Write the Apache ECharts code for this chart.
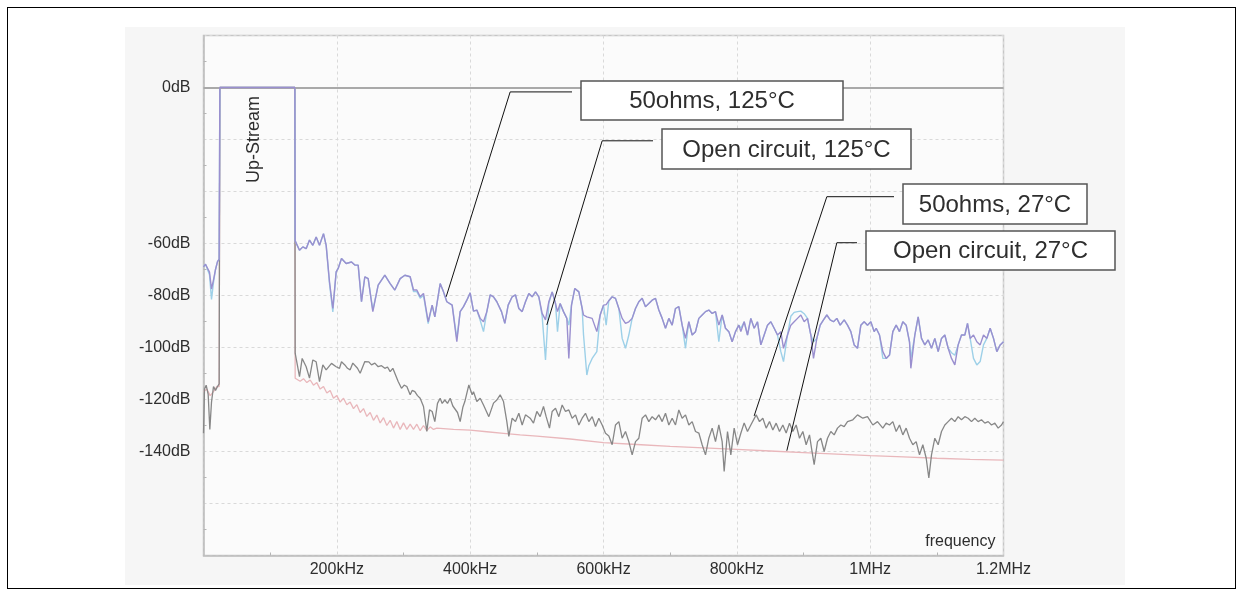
<!DOCTYPE html>
<html>
<head>
<meta charset="utf-8">
<script src="https://cdn.jsdelivr.net/npm/echarts@6/dist/echarts.min.js"></script>
<style>
  html, body { margin: 0; padding: 0; background: #ffffff; }
  #frame { position: absolute; left: 7px; top: 7px; width: 1229px; height: 582px; border: 1.5px solid #000; box-sizing: border-box; }
  #panel { position: absolute; left: 125px; top: 27px; width: 1000px; height: 558px; background: #f6f6f6; }
  #chart { position: absolute; left: 0; top: 0; width: 1243px; height: 596px; }
</style>
</head>
<body>
<div id="frame"></div>
<div id="panel"></div>
<div id="chart"></div>
<script>
// Frequency in kHz, level in dB.
const xTickLabels = ['', '200kHz', '400kHz', '600kHz', '800kHz', '1MHz', '1.2MHz'];
const yLabelledLevels = [0, -60, -80, -100, -120, -140];

// 50 ohms load, 125 °C
const ohms50_125C = [
  [0,-69],[3,-68],[6,-67.5],[9,-71],[12,-77.5],[15,-74],[18,-70],[21,-67],[23.5,-66],[24.5,0],
  [137,0],[137.5,-59],
  [139,-58.7],[144,-62.6],[149,-61.3],[154,-62],[159,-58.7],[164,-60.7],[169,-57.5],[174,-60.7],[180,-56.2],[184,-60.7],[189,-74.7],[194,-85],
  [199,-70.9],[202,-69.6],[207,-65.8],[214,-67.7],[222,-67.1],[227,-68.3],[232,-68.3],[237,-82.4],[242,-72.8],[247,-73.5],[254,-86.2],[262,-76],[272,-72.2],[280,-75.4],[287,-77.9],[295,-73.5],[302,-72.2],[310,-72.8],[315,-77.9],[320,-77.9],[325,-80.5],[330,-79.2],[337,-90.1],[343,-83.7],[347,-88.2],[355,-75.4],[360,-78.6],[365,-82.4],[373,-83.7],[380,-97.8],[385,-86.2],[390,-84.3],[395,-81.8],[400,-79],[405,-86],
  [410,-85.6],[415,-88.8],[420,-90.1],[425,-86.2],[430,-79.8],[435,-80.5],[440,-82.4],[447,-86.2],[452,-90.7],[457,-83.7],[463,-80.5],[468,-79.8],[473,-85],[478,-86.2],[483,-82.4],[488,-79.2],[493,-80.5],[498,-78.6],[503,-80.5],[508,-86.9],[513,-89.4],[518,-82.4],[523,-78.6],[528,-83.1],[531,-86.2],[535,-83.1],[540,-86.2],[545,-88.8],[548,-104.2],[552,-83.7],[557,-77.3],[563,-78.6],[568,-85],[570,-87.5],[575,-88.2],[578,-88.8],[583,-88.8],[590,-93.9],[595,-87.5],[600,-83.7],
  [604,-83.5],[608,-82],[613,-80.5],[618,-81.1],[623,-85],[628,-88.8],[633,-90.7],[638,-90.1],[643,-88.8],[648,-85],[653,-82.4],[658,-81.1],[663,-84.3],[668,-83.1],[673,-81.8],[678,-81.1],[683,-85.6],[688,-88.8],[693,-92.6],[698,-88.8],[703,-91.4],[708,-85],[713,-84.3],[718,-91.4],[723,-96.5],[728,-90.1],[733,-95.2],[738,-93.9],[743,-88.8],[748,-87.5],[753,-86.2],[758,-85.6],[763,-86.9],[768,-86.2],[773,-91.4],[778,-87.5],[783,-92.6],[788,-93.9],[793,-97.8],[798,-93.9],[803,-91.4],
  [806,-93.9],[811,-90.1],[816,-95.2],[821,-88.8],[826,-92.6],[831,-90.1],[836,-99],[841,-95.2],[846,-91.4],[851,-90.1],[856,-92.6],[861,-95.2],[866,-93.9],[870,-100.3],[876,-95.2],[881,-91.4],[886,-90.1],[891,-88.8],[896,-87.5],[901,-90.1],[906,-88.8],[911,-95.2],[915,-104.2],[920,-96.5],[925,-91.4],[930,-89.4],[935,-87.5],[940,-89.4],[945,-90.1],[950,-88.8],[955,-91.4],[961,-89.4],[966,-91.4],[971,-93.9],[976,-99],[981,-100.3],[986,-91.4],[991,-90.1],[996,-91.4],[1001,-90.1],[1006,-93.9],
  [1009,-92.6],[1014,-95.2],[1019,-101.6],[1024,-104.2],[1029,-102.9],[1034,-93.9],[1039,-91.4],[1044,-93.9],[1049,-90.1],[1054,-91.4],[1059,-97.8],[1061,-108],[1067,-95.2],[1072,-88.2],[1077,-96.5],[1082,-99],[1087,-97.1],[1092,-100.3],[1097,-96.5],[1102,-101.6],[1107,-96.5],[1112,-95.2],[1117,-100.3],[1122,-104.2],[1127,-106.7],[1132,-99],[1137,-95.2],[1142,-95.2],[1146,-90.7],[1150,-96.5],[1155,-95.2],[1160,-97.8],[1165,-99],[1170,-95.2],[1175,-96.5],[1180,-92.6],[1185,-96.5],[1190,-101.6],[1195,-99],[1200,-97.8]
];

// Open circuit, 125 °C
const open_125C = [
  [0,-69],[3,-68],[6,-67.5],[9,-72],[12,-81.5],[15,-75],[18,-70],[21,-67],[23.5,-66],[24.5,0],
  [137,0],[137.5,-59],
  [139,-58.7],[144,-62.6],[149,-61.3],[154,-62],[159,-58.7],[164,-60.7],[169,-57.5],[174,-60.7],[180,-56.2],[184,-60.7],[189,-75.5],[194,-86.3],
  [199,-70.9],[202,-69.6],[207,-65.8],[214,-67.7],[222,-67.1],[227,-68.3],[232,-68.3],[237,-82.4],[242,-72.8],[247,-73.5],[254,-85.6],[262,-76],[272,-72.2],[280,-75.4],[287,-77.9],[295,-73.5],[302,-72.2],[310,-72.8],[315,-78.5],[320,-78.5],[325,-81],[330,-80],[337,-90.8],[343,-83.7],[347,-88.2],[355,-75.4],[360,-78.6],[365,-82.4],[373,-83.7],[380,-96.5],[385,-86.2],[390,-84.3],[395,-81.8],[400,-79],[405,-86],
  [410,-85.6],[415,-89.5],[420,-93.9],[425,-86.2],[430,-79.8],[435,-80.5],[440,-82.4],[447,-86.2],[452,-90.7],[457,-83.7],[463,-80.5],[468,-79.8],[473,-85],[478,-86.2],[483,-82.4],[488,-79.2],[493,-80.5],[498,-78.6],[503,-80.5],[508,-88],[513,-104.8],[518,-83],[523,-78.6],[528,-83.1],[531,-93.9],[535,-83.1],[540,-86.2],[545,-88.8],[548,-91.4],[552,-83.7],[557,-77.3],[563,-78.6],[568,-85],[570,-95],[575,-110.6],[578,-107],[583,-104.2],[590,-101.6],[595,-87.5],[600,-83.7],
  [604,-91.4],[608,-82],[613,-80.5],[618,-81.1],[623,-85],[628,-96.5],[633,-100.3],[638,-95.2],[643,-88.8],[648,-85],[653,-82.4],[658,-81.1],[663,-84.3],[668,-83.1],[673,-81.8],[678,-81.1],[683,-85.6],[688,-88.8],[693,-92.6],[698,-88.8],[703,-91.4],[708,-85],[713,-84.3],[718,-91.4],[723,-100.3],[728,-90.1],[733,-95.2],[738,-93.9],[743,-88.8],[748,-87.5],[753,-86.2],[758,-85.6],[763,-86.9],[768,-86.2],[773,-97.8],[778,-87.5],[783,-92.6],[788,-93.9],[793,-97.8],[798,-93.9],[803,-91.4],
  [806,-92.6],[811,-90.1],[816,-95.2],[821,-88.8],[826,-92.6],[831,-90.1],[836,-99],[841,-95.2],[846,-91.4],[851,-90.1],[856,-92.6],[861,-95.2],[866,-101.6],[870,-105.4],[876,-95.2],[881,-88],[886,-86.5],[891,-86.2],[896,-86],[901,-87],[906,-88.8],[911,-95.2],[915,-97.8],[920,-96.5],[925,-91.4],[930,-89.4],[935,-87.5],[940,-89.4],[945,-90.1],[950,-88.8],[955,-91.4],[961,-89.4],[966,-91.4],[971,-93.9],[976,-99],[981,-100.3],[986,-91.4],[991,-90.1],[996,-91.4],[1001,-90.1],[1006,-93.9],
  [1009,-92.6],[1014,-95.2],[1019,-104.2],[1024,-104.2],[1029,-102.9],[1034,-93.9],[1039,-91.4],[1044,-93.9],[1049,-90.1],[1054,-91.4],[1059,-97.8],[1061,-104.2],[1067,-95.2],[1072,-88.2],[1077,-96.5],[1082,-99],[1087,-97.1],[1092,-100.3],[1097,-96.5],[1102,-101.6],[1107,-96.5],[1112,-95.2],[1117,-100.3],[1122,-102],[1127,-103],[1132,-99],[1137,-95.2],[1142,-95.2],[1146,-90.7],[1150,-96.5],[1155,-104.2],[1160,-106.7],[1165,-105.4],[1170,-99],[1175,-96.5],[1180,-92.6],[1185,-96.5],[1190,-101.6],[1195,-99],[1200,-97.8]
];

// 50 ohms load, 27 °C
const ohms50_27C = [
  [0,-133],[1.5,-116],[4,-114.5],[7,-118],[9.5,-131.5],[12,-121],[15,-115],[18,-116.5],[21,-115],[23.5,-114],[24.5,0],
  [137,0],[137.5,-102.2],
  [144,-111.2],[148,-104.2],[154,-107.4],[159,-111.8],[164,-104.8],[169,-105.5],[174,-113.1],[179,-106.7],[184,-108.6],[192,-106.1],[199,-107.4],[204,-108],[207,-105.5],[212,-106.7],[216,-108],[220,-108.6],[224,-106],[227,-106.7],[231,-108],[235,-109.9],[242,-105.4],[248,-105.5],[252,-106.7],[257,-106],[262,-107.4],[267,-107],[272,-108],[276,-107.5],[280,-109.3],[284,-108],[287,-108.6],[292,-113.1],[297,-115.7],[301,-114.5],[305,-115],[310,-118.2],[313,-116.5],[317,-117],[321,-118.5],[325,-119.5],[330,-122.7],[335,-132.3],[339,-124],[343,-124.6],[347,-128.5],[351,-121.5],[355,-119.5],[358,-121.5],[362,-120.2],[366,-121.5],[370,-119.5],[374,-122.5],[377,-122.1],[381,-125],[385,-128.5],[389,-123],[392,-120.8],[398,-114.4],[403,-118.2],
  [405,-117],[410,-120.8],[415,-119.5],[420,-122.1],[428,-126.6],[435,-121.4],[440,-120.2],[445,-118.2],[450,-120.8],[455,-128.5],[458,-134.2],[463,-127.2],[468,-128.5],[473,-125.3],[478,-129.8],[483,-125.9],[490,-127.2],[495,-129.1],[500,-124.6],[505,-126.6],[510,-122.7],[514,-126.6],[519,-131],[523,-124.6],[528,-123.4],[533,-126.6],[538,-122.1],[543,-124.6],[548,-124],[553,-127.2],[558,-125.9],[563,-129.8],[568,-127.2],[573,-125.3],[578,-128.5],[583,-126.6],[588,-130.4],[593,-127.2],[598,-129.8],[603,-133],[608,-134],
  [613,-137.4],[618,-129.8],[623,-128.5],[628,-134.9],[633,-132.3],[638,-136.2],[643,-141.3],[648,-136.2],[653,-134.9],[658,-127.2],[663,-125.9],[668,-128.5],[673,-126.6],[678,-127.8],[683,-125.9],[688,-128.5],[693,-125.3],[698,-129.8],[703,-127.2],[708,-129.8],[713,-124],[718,-127.2],[723,-125.9],[728,-129.8],[733,-128.5],[738,-132.3],[743,-132.9],[748,-137.4],[753,-141.3],[758,-134.9],[763,-131],[768,-136.2],[773,-129.8],[778,-136.2],[781,-147.7],[786,-132.3],[791,-141.3],[796,-131],[801,-137.4],[806,-133],[811,-129],
  [816,-132.3],[821,-129.8],[829,-125.9],[834,-128.5],[839,-127.2],[844,-131],[849,-128.5],[854,-131.7],[859,-129.1],[864,-132.3],[869,-129.8],[874,-132.9],[879,-129.1],[884,-132.3],[889,-129.8],[894,-134.9],[899,-132.3],[904,-137.4],[909,-133.6],[912,-138.7],[916,-145.1],[921,-136.2],[926,-134.9],[931,-140],[936,-134.9],[941,-132.3],[946,-133.6],[951,-131],[956,-129.8],[961,-130.4],[966,-128.5],[974,-127.8],[981,-125.9],[989,-127.2],[996,-126.6],[1004,-129.8],[1011,-128.5],
  [1014,-128.5],[1019,-131],[1024,-129.1],[1029,-129.8],[1034,-128.5],[1039,-132.3],[1044,-129.8],[1049,-133.6],[1054,-131],[1059,-134.9],[1064,-137.4],[1069,-136.2],[1074,-141.3],[1079,-137.4],[1084,-142.5],[1088,-150.2],[1092,-141.3],[1097,-134.9],[1102,-137.4],[1107,-132.3],[1112,-129.8],[1117,-128.5],[1122,-127.2],[1127,-128.5],[1132,-126.6],[1137,-127.8],[1142,-126.6],[1147,-127.2],[1152,-128.5],[1157,-127.2],[1162,-128.5],[1167,-127.8],[1172,-129.1],[1177,-128.5],[1182,-129.8],[1187,-129.1],[1192,-131],[1197,-129.8],[1200,-128.5]
];

// Open circuit, 27 °C
const open_27C = [
  [0,-117],[5,-116],[10,-118.5],[15,-117],[20,-115],[23.5,-115],[24.5,0],
  [137,0],[137.5,-111.8],
  [140,-111.5],[145,-113],[150,-112],[155,-113.5],[160,-112.5],[165,-114.5],[170,-113.5],[175,-116],[180,-115],[185,-117.5],[190,-116.5],[195,-119.5],[200,-118.5],[205,-121],[210,-119.5],[215,-122],[220,-121],[225,-123.5],[230,-122],[235,-125],[240,-123.5],[245,-126.5],[250,-125],[255,-128],[260,-126],[265,-129],[270,-127],[275,-130],[280,-128],[285,-131],[290,-128.5],[295,-131.5],[300,-129],[305,-131.5],[310,-129.5],[315,-131.5],[320,-129.5],[325,-132],[330,-130],[335,-132],[340,-130.5],[345,-131.5],[350,-131],
  [360,-131.2],[375,-131.5],[400,-131.8],[425,-132.4],[450,-133],[475,-133.6],[500,-134.1],[550,-135.2],[600,-136.6],[650,-137.3],[700,-138],[750,-138.6],[800,-139.2],[850,-139.8],[900,-140.4],[950,-141],[1000,-141.6],[1050,-142.1],[1100,-142.6],[1150,-143],[1200,-143.3]
];

// Callout notes: tip and elbow in (kHz, dB); box in page pixels.
const notes = [
  { text: '50ohms, 125°C',        tip: [364, -80.5],  elbow: [460, -1.7],  box: [581, 81, 262, 39] },
  { text: 'Open circuit, 125°C',  tip: [515, -91.3],  elbow: [598, -20.5], box: [662, 129, 249, 40] },
  { text: '50ohms, 27°C',         tip: [826, -126.3], elbow: [935, -42.0], box: [903, 184, 184, 40] },
  { text: 'Open circuit, 27°C',   tip: [875, -139.7], elbow: [950, -59.7], box: [866, 231, 249, 39] }
];

const FONT = '"Liberation Sans", Arial, Helvetica, sans-serif';
const TEXT_COLOR = '#2e2e2e';

const chart = echarts.init(document.getElementById('chart'));

function lineSeries(name, data, color, width, z) {
  return {
    name: name, type: 'line', data: data,
    showSymbol: false, symbol: 'none', silent: true, z: z,
    lineStyle: { color: color, width: width }
  };
}

const series = [
  lineSeries('Open circuit, 27°C', open_27C, '#e9b7bb', 1.3, 2),
  lineSeries('50ohms, 27°C', ohms50_27C, '#878787', 1.3, 3),
  lineSeries('Open circuit, 125°C', open_125C, '#9dd0e8', 1.4, 4),
  lineSeries('50ohms, 125°C', ohms50_125C, '#9a8fcf', 1.4, 5)
];
// solid reference line at 0 dB
series[0].markLine = {
  silent: true, symbol: 'none', label: { show: false },
  lineStyle: { color: '#a9a9a9', type: 'solid', width: 2 },
  data: [{ yAxis: 0 }]
};

chart.setOption({
  animation: false,
  backgroundColor: 'transparent',
  grid: {
    left: 203.5, top: 35.5, width: 800, height: 520,
    show: true, backgroundColor: '#fbfbfb', borderColor: '#c6c6c6', borderWidth: 1.5
  },
  xAxis: {
    type: 'value', min: 0, max: 1200, interval: 200,
    axisLine: { show: true, onZero: false, lineStyle: { color: '#bdbdbd', width: 1.5 } },
    axisTick: { show: false, inside: true },
    minorTick: { show: true, splitNumber: 2, length: 3, lineStyle: { color: '#b5b5b5' } },
    axisLabel: {
      color: TEXT_COLOR, fontSize: 16, fontFamily: FONT, margin: 6,
      formatter: function (v) { return xTickLabels[Math.round(v / 200)] || ''; }
    },
    splitLine: { show: true, lineStyle: { color: '#d9d9d9', type: [3, 3], width: 1 } }
  },
  yAxis: {
    type: 'value', min: -180, max: 20, interval: 20,
    axisLine: { show: true, onZero: false, lineStyle: { color: '#bdbdbd', width: 1.5 } },
    axisTick: { show: false, inside: true },
    minorTick: { show: true, splitNumber: 2, length: 3, lineStyle: { color: '#b5b5b5' } },
    axisLabel: {
      color: TEXT_COLOR, fontSize: 16, fontFamily: FONT, margin: 13,
      formatter: function (v) { return yLabelledLevels.indexOf(v) >= 0 ? v + 'dB' : ''; }
    },
    splitLine: { show: true, lineStyle: { color: '#d9d9d9', type: [3, 3], width: 1 } }
  },
  series: series
});

function toPx(pt) { return chart.convertToPixel({ gridIndex: 0 }, pt); }

const graphics = [];
notes.forEach(function (n) {
  const tip = toPx(n.tip);
  const elbow = toPx(n.elbow);
  const b = n.box;
  graphics.push({
    type: 'polyline', z: 100, silent: true,
    shape: { points: [[b[0] - 9, elbow[1]], elbow, tip] },
    style: { stroke: '#111111', lineWidth: 1, fill: null }
  });
  graphics.push({
    type: 'rect', z: 101, silent: true,
    shape: { x: b[0], y: b[1], width: b[2], height: b[3] },
    style: { fill: '#ffffff', stroke: '#555555', lineWidth: 1.5 }
  });
  graphics.push({
    type: 'text', z: 102, silent: true,
    x: b[0] + b[2] / 2, y: b[1] + b[3] / 2 + 1,
    style: {
      text: n.text, fontSize: 24, fontFamily: FONT, fill: TEXT_COLOR,
      align: 'center', verticalAlign: 'middle', textAlign: 'center', textVerticalAlign: 'middle'
    }
  });
});

// band label inside the up-stream window
const bandPos = toPx([76, -20]);
graphics.push({
  type: 'text', z: 102, silent: true,
  x: bandPos[0], y: bandPos[1], rotation: Math.PI / 2,
  style: {
    text: 'Up-Stream', fontSize: 18, fontFamily: FONT, fill: TEXT_COLOR,
    align: 'center', verticalAlign: 'middle', textAlign: 'center', textVerticalAlign: 'middle'
  }
});

// axis caption in the lower right corner of the plot
const capPos = toPx([1188, -174.7]);
graphics.push({
  type: 'text', z: 102, silent: true,
  x: capPos[0], y: capPos[1],
  style: {
    text: 'frequency', fontSize: 16, fontFamily: FONT, fill: TEXT_COLOR,
    align: 'right', verticalAlign: 'middle', textAlign: 'right', textVerticalAlign: 'middle'
  }
});

chart.setOption({ graphic: { elements: graphics } });
</script>
</body>
</html>
